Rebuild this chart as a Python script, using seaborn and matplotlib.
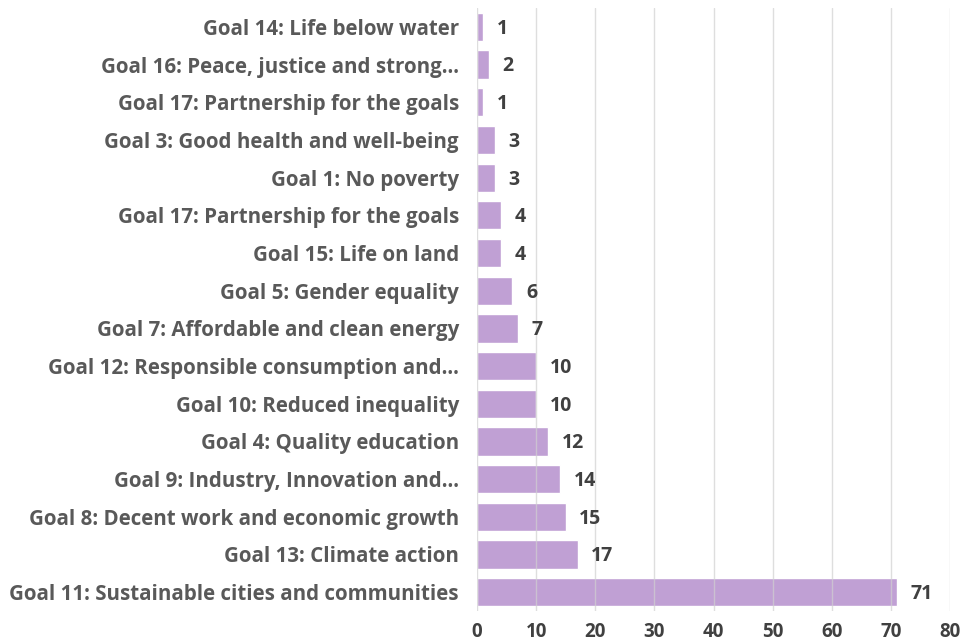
import matplotlib.pyplot as plt
import seaborn as sns
import pandas as pd

goals = [
    "Goal 14: Life below water",
    "Goal 16: Peace, justice and strong...",
    "Goal 17: Partnership for the goals",
    "Goal 3: Good health and well-being",
    "Goal 1: No poverty",
    "Goal 17: Partnership for the goals",
    "Goal 15: Life on land",
    "Goal 5: Gender equality",
    "Goal 7: Affordable and clean energy",
    "Goal 12: Responsible consumption and...",
    "Goal 10: Reduced inequality",
    "Goal 4: Quality education",
    "Goal 9: Industry, Innovation and...",
    "Goal 8: Decent work and economic growth",
    "Goal 13: Climate action",
    "Goal 11: Sustainable cities and communities",
]
counts = [1, 2, 1, 3, 3, 4, 4, 6, 7, 10, 10, 12, 14, 15, 17, 71]
x_ticks = [0, 10, 20, 30, 40, 50, 60, 70, 80]

sns.set_theme(style="white")
plt.rcParams['font.family'] = ['Open Sans', 'DejaVu Sans']

# duplicate goal names, so use a unique key per row
df = pd.DataFrame({'key': [str(i) for i in range(len(goals))], 'Goal': goals, 'Count': counts})

fig = plt.figure(figsize=(9.65, 6.44), dpi=100)
ax = fig.add_axes([0.4943, 0.0512, 0.4902, 0.9363])
sns.barplot(data=df, x='Count', y='key', orient='h', color='#c0a0d4',
            saturation=1, width=0.75, ax=ax)

ax.set_xlim(0, 80)
ax.set_xticks(x_ticks)
ax.set_xticklabels([str(t) for t in x_ticks], fontsize=13.5, fontweight='bold', color='#404040')
ax.set_yticklabels(df['Goal'], fontsize=14.8, fontweight='bold', color='#595959')
ax.tick_params(axis='x', length=0, pad=8)
ax.tick_params(axis='y', length=0, pad=13)
ax.set_xlabel('')
ax.set_ylabel('')

ax.set_axisbelow(False)
ax.grid(axis='x', color='#d0d0d0', linewidth=1, alpha=0.7)
for s in ax.spines.values():
    s.set_visible(False)

for i, v in enumerate(counts):
    ax.text(v + 2.3, i + 0.05, str(v), va='center', ha='left', fontsize=14,
            fontweight='bold', color='#404040')

fig.savefig('out.png', dpi=100)
